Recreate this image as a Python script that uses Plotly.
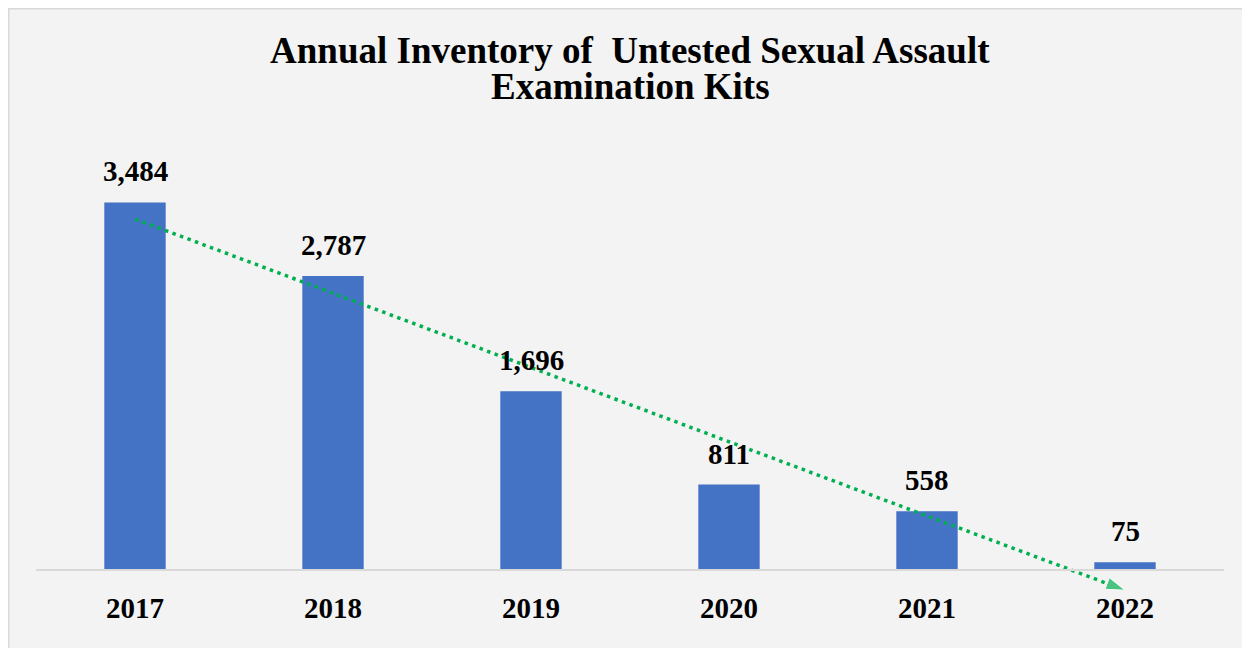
import numpy as np
import plotly.graph_objects as go

years = ["2017", "2018", "2019", "2020", "2021", "2022"]
kits = [3484, 2787, 1696, 811, 558, 75]
title_lines = ["Annual Inventory of  Untested Sexual Assault", "Examination Kits"]

W, H = 1250, 648
ML, MR, MT, MB = 28, 34, 140, 12
Y0, Y1 = -700, 4000

FONT = "Liberation Serif"

# linear trendline through the data (as the chart's trendline)
idx = np.arange(len(kits))
slope, intercept = np.polyfit(idx, kits, 1)
trend_x = [years[0], years[-1]]
trend_y = [intercept + slope * idx[0], intercept + slope * idx[-1]]

fig = go.Figure()
fig.add_trace(go.Bar(
    x=years, y=kits, width=0.31,
    marker=dict(color="#4472c4", line=dict(width=0)),
    hoverinfo="skip", cliponaxis=False,
))
fig.add_trace(go.Scatter(
    x=trend_x, y=trend_y, mode="lines+markers",
    line=dict(color="#00b050", width=3.5, dash="3.5px,4.5px"),
    marker=dict(symbol=["circle", "arrow"], size=[0, 20], color="#00b050",
                angleref="previous"),
    hoverinfo="skip", cliponaxis=False,
))

for i, v in enumerate(kits):
    fig.add_annotation(x=i, y=v, xref="x", yref="y", text=f"{v:,}",
                       showarrow=False, yanchor="middle", yshift=31,
                       font=dict(family=FONT, size=29, color="#000000",
                                 weight="bold"))

pw = W - ML - MR
ph = H - MT - MB

# title as two centred lines (paper coords of the plot area)
for k, (line, fy) in enumerate(zip(title_lines, [42, 79])):
    fig.add_annotation(x=0.5, y=(H - MB - fy) / ph, xref="paper", yref="paper",
                       text=line, showarrow=False, xanchor="center",
                       yanchor="middle",
                       font=dict(family=FONT, size=37, color="#000000",
                                 weight="bold"))

fig.add_shape(type="rect", xref="paper", yref="paper",
              x0=(0 - ML) / pw, x1=(1290 - ML) / pw,
              y0=(H - MB - 700) / ph, y1=(H - MB - 0) / ph,
              fillcolor="#f3f3f3", line=dict(color="#d9d9d9", width=3),
              layer="below")

fig.update_layout(
    width=W, height=H,
    margin=dict(l=ML, r=MR, t=MT, b=MB),
    paper_bgcolor="#ffffff", plot_bgcolor="rgba(0,0,0,0)",
    showlegend=False,
    xaxis=dict(type="category", range=[-0.5, 5.5], anchor="free",
               position=(0 - Y0) / (Y1 - Y0),
               showline=True, linecolor="#d9d9d9", linewidth=2,
               showgrid=False, ticks="outside", ticklen=12,
               tickcolor="rgba(0,0,0,0)",
               tickfont=dict(family=FONT, size=29, color="#000000", weight="bold")),
    yaxis=dict(range=[Y0, Y1], visible=False, showgrid=False, zeroline=False),
)

fig.write_html("out.html")
